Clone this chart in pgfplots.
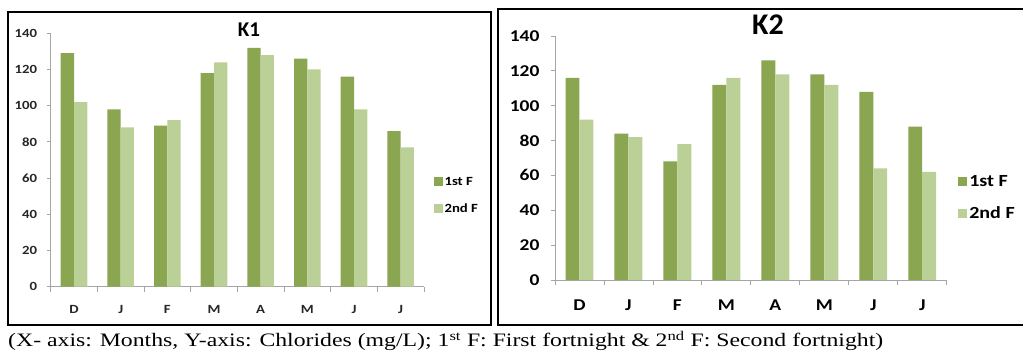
\documentclass[border=0pt]{standalone}
\usepackage{fontspec}
\setmainfont{Carlito}
\newfontfamily\capfont[FakeStretch=1.25]{Liberation Serif}
\newfontfamily\wideb[FakeStretch=1.18]{Carlito Bold}
\usepackage{pgfplots}
\pgfplotsset{compat=1.18}
\definecolor{dg}{RGB}{139,166,80}
\definecolor{lg}{RGB}{187,208,150}
\definecolor{axc}{RGB}{165,165,165}
\pgfplotsset{
  kstyle/.style={
    scale only axis,
    ymin=0, ymax=140, ytick={0,20,...,140},
    xmin=-0.5, xmax=7.5,
    xtick={0,...,7}, xticklabels={D,J,F,M,A,M,J,J},
    minor xtick={-0.5,0.5,...,7.5},
    axis x line*=bottom, axis y line*=left,
    axis line style={axc, line width=0.8pt, -},
    tick align=outside,
    major tick length=4pt, minor tick length=5pt,
    major x tick style={draw=none},
    minor x tick style={draw=axc, line width=0.8pt},
    major y tick style={draw=axc, line width=0.8pt},
    /pgf/number format/assume math mode=true,
    ybar, bar width=0.285,
    legend cell align=left,
    legend image code/.code={\fill[##1] (0pt,-4.5pt) rectangle (9pt,4.5pt);},
    clip=false,
  }
}
\begin{document}
\begin{tikzpicture}[x=1pt,y=1pt]
\path[use as bounding box] (0,0) rectangle (1023,352);
% frames
\draw[line width=2pt] (8,340) rectangle (491,27);
\draw[line width=2pt] (498,342.5) rectangle (1035,27);
% Left panel K1
\begin{axis}[kstyle, at={(50.7pt,65.3pt)}, anchor=south west,
  width=373.3pt, height=253.4pt,
  ticklabel style={font=\wideb\fontsize{12.5}{12.5}\selectfont, text=black!85},
  yticklabel style={xshift=-6pt},
  xticklabel style={yshift=-11pt},
  legend style={at={(1.025,0.36)}, anchor=west, draw=none, fill=none,
    font=\wideb\fontsize{12.5}{12.5}\selectfont, row sep=13pt, inner sep=0pt},
]
\addplot[fill=dg, draw=none, bar shift=-0.1425] coordinates {(0,129) (1,98) (2,89) (3,118) (4,132) (5,126) (6,116) (7,86)};
\addplot[fill=lg, draw=none, bar shift=0.1425] coordinates {(0,102) (1,88) (2,92) (3,124) (4,128) (5,120) (6,98) (7,77)};
\legend{1st F, 2nd F}
\end{axis}
\node[font=\bfseries\fontsize{21}{21}\selectfont] at (249,322) {K1};
% Right panel K2
\begin{axis}[kstyle, at={(555pt,72pt)}, anchor=south west,
  width=391.7pt, height=244pt,
  ticklabel style={font=\wideb\fontsize{16.5}{16.5}\selectfont},
  yticklabel style={xshift=-8pt},
  xticklabel style={yshift=-12pt},
  legend style={at={(1.029,0.338)}, anchor=west, draw=none, fill=none,
    font=\wideb\fontsize{17}{17}\selectfont, row sep=15pt, inner sep=0pt},
]
\addplot[fill=dg, draw=none, bar shift=-0.1425] coordinates {(0,116) (1,84) (2,68) (3,112) (4,126) (5,118) (6,108) (7,88)};
\addplot[fill=lg, draw=none, bar shift=0.1425] coordinates {(0,92) (1,82) (2,78) (3,116) (4,118) (5,112) (6,64) (7,62)};
\legend{1st F, 2nd F}
\end{axis}
\node[font=\bfseries\fontsize{30}{30}\selectfont] at (768,327) {K2};
% caption
\node[anchor=base west, inner sep=0pt, font=\capfont\fontsize{19}{19}\selectfont] at (8,5.3)
  {(X- axis: Months, Y-axis: Chlorides (mg/L); 1\textsuperscript{st} F: First fortnight \& 2\textsuperscript{nd} F: Second fortnight)};
\end{tikzpicture}
\end{document}
